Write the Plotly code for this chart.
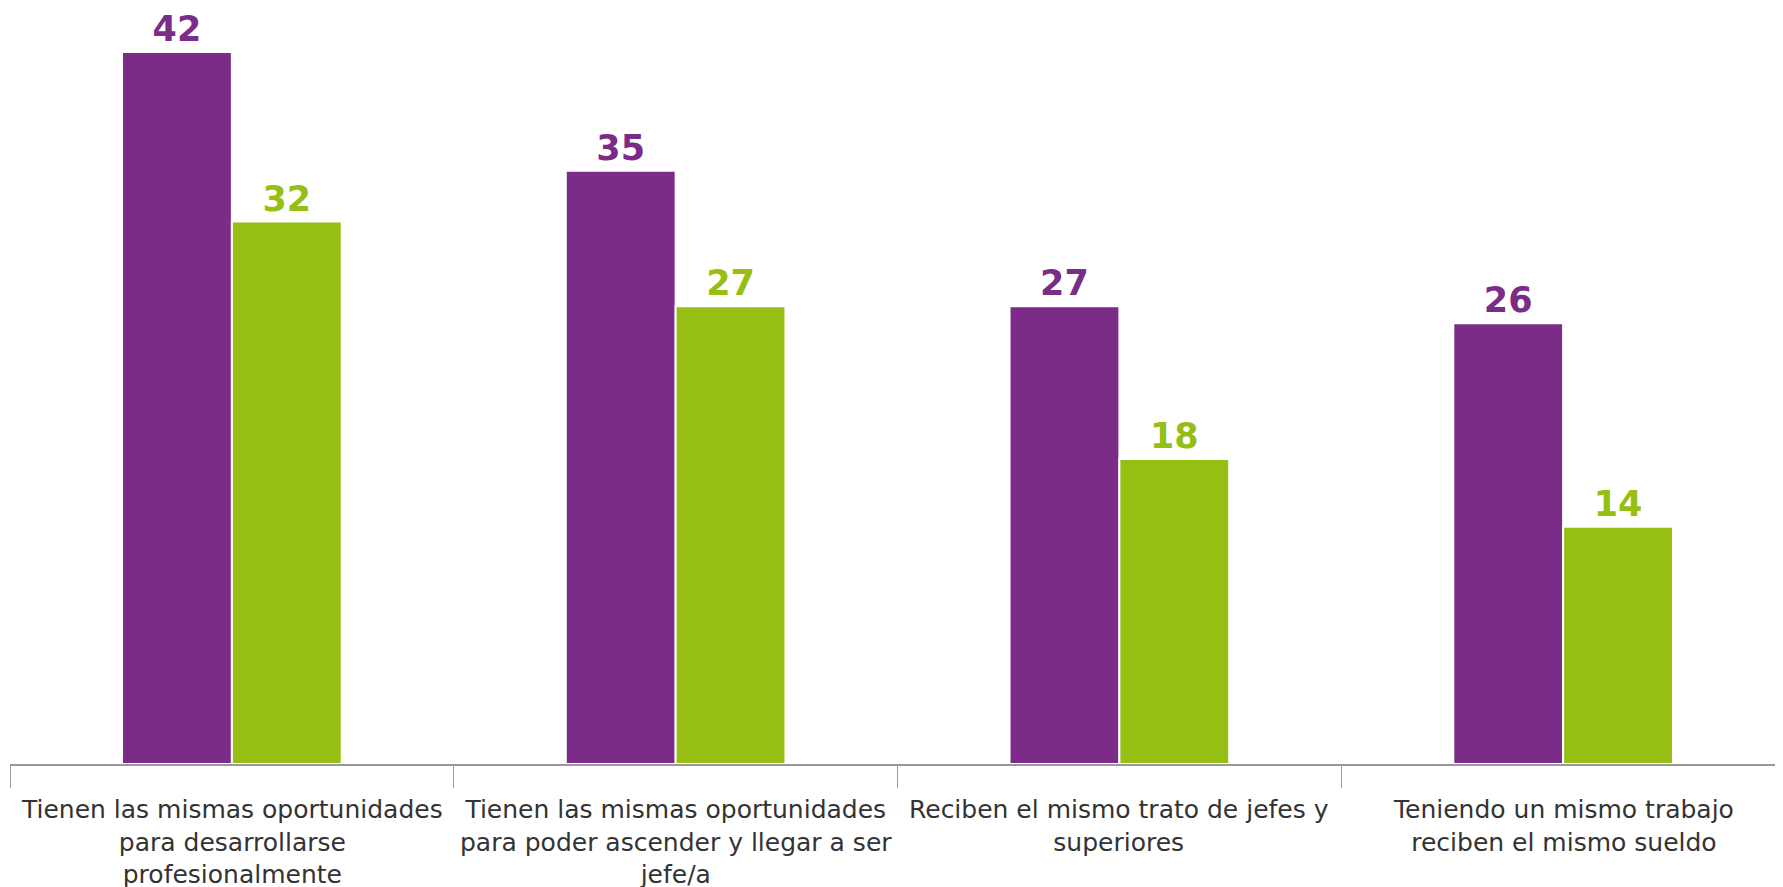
import plotly.graph_objects as go

categories = ["Tienen las mismas oportunidades<br>para desarrollarse<br>profesionalmente",
              "Tienen las mismas oportunidades<br>para poder ascender y llegar a ser<br>jefe/a",
              "Reciben el mismo trato de jefes y<br>superiores",
              "Teniendo un mismo trabajo<br>reciben el mismo sueldo"]
serie_a = [42, 35, 27, 26]
serie_b = [32, 27, 18, 14]
purple = "#7B2C87"
green = "#97BE12"
xs = list(range(len(categories)))

fig = go.Figure()
for vals, col in [(serie_a, purple), (serie_b, green)]:
    fig.add_trace(go.Bar(x=xs, y=vals, marker=dict(color=col, line=dict(color="white", width=2)),
                         text=[str(v) for v in vals], textposition="outside", cliponaxis=False,
                         textfont=dict(color=col, size=35, family="DejaVu Sans", weight="bold")))
for i, c in enumerate(categories):
    fig.add_annotation(x=i, y=0, yref="y", text=c, showarrow=False, yanchor="top", yshift=-29,
                       font=dict(size=25, color="#333333", family="DejaVu Sans"))
fig.update_layout(width=1783, height=887, barmode="group", bargap=0.505, bargroupgap=0,
                  plot_bgcolor="white", paper_bgcolor="white", showlegend=False,
                  margin=dict(l=2, r=6, t=0, b=131))
fig.update_xaxes(range=[-0.5, 3.5], tickvals=[-0.5, 0.5, 1.5, 2.5, 3.5], showticklabels=False,
                 ticks="outside", ticklen=22, tickcolor="#999999", showline=True, linecolor="#999999",
                 linewidth=2, showgrid=False)
fig.update_yaxes(range=[0, 44.6], visible=False)
fig.write_html("out.html")
